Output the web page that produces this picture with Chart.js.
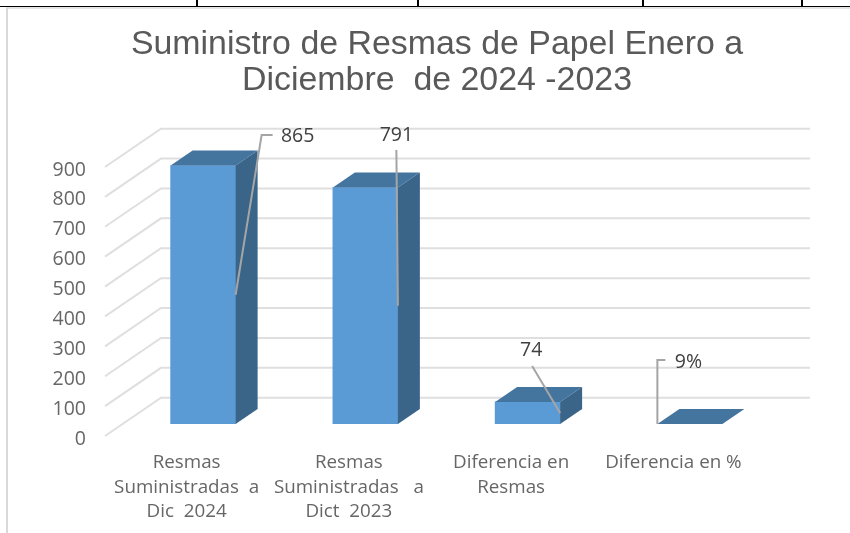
<!DOCTYPE html>
<html lang="es">
<head>
<meta charset="utf-8">
<title>Suministro de Resmas de Papel</title>
<script src="https://cdn.jsdelivr.net/npm/chart.js@4"></script>
<style>
    html, body { margin: 0; padding: 0; width: 850px; height: 533px; overflow: hidden; background: #fff; }
    /* recuadro del grafico y restos de la tabla de arriba */
    #frame { position: absolute; left: 6px; top: 7px; width: 860px; height: 526px; border-left: 2px solid #d9d9d9; border-top: 2px solid #e4e4e4; }
    #frame canvas { display: block; }
    .rule { position: absolute; background: #000; }
</style>
</head>
<body>
<div class="rule" style="left:0;top:6px;width:850px;height:1px"></div>
<div class="rule" style="left:196px;top:0;width:2px;height:7px"></div>
<div class="rule" style="left:417px;top:0;width:2px;height:7px"></div>
<div class="rule" style="left:642px;top:0;width:2px;height:7px"></div>
<div class="rule" style="left:801px;top:0;width:2px;height:7px"></div>
<div id="frame"><canvas id="suministro" width="858" height="524"></canvas></div>
<script>
const categories = [
    ["Resmas", "Suministradas  a", "Dic  2024"],
    ["Resmas", "Suministradas   a", "Dict  2023"],
    ["Diferencia en", "Resmas"],
    ["Diferencia en %"]
];
const values = [865, 791, 74, 0.09];
const valueLabels = ["865", "791", "74", "9%"];
const yTicks = [0, 100, 200, 300, 400, 500, 600, 700, 800, 900];
const titleLines = ["Suministro de Resmas de Papel Enero a", "Diciembre  de 2024 -2023"];

const textFont = "'Open Sans', sans-serif";

// Profundidad de la caja 3D
const barDepth = { x: 22, y: -15 };
const wallBack = { x: 39, y: -26.3 };
const wallFront = { x: -17, y: 12 };

// Lineas guia de cada etiqueta: x desde el borde de la barra, y desde la base
const leaders = [
    { side: "right", path: [[26, -289], [37, -289]], text: [62, -288] },
    { side: "right", path: [[-1.5, -274]], text: [-1.5, -289] },
    { side: "right", path: [[-28, -58]], text: [-29, -74] },
    { side: "left", path: [[0, -64], [8, -64]], text: [31, -62] }
];

function anchorX(bar, lead) {
    return lead.side === "right" ? bar.x + bar.width / 2 : bar.x - bar.width / 2;
}

const walls = {
    id: "walls",
    beforeDatasetsDraw(chart) {
        const { ctx, chartArea, scales } = chart;
        ctx.save();
        ctx.strokeStyle = "#dfdfdf";
        ctx.lineWidth = 2;
        yTicks.forEach(t => {
            const y = scales.y.getPixelForValue(t);
            ctx.beginPath();
            ctx.moveTo(chartArea.left + wallFront.x, y + wallFront.y);
            ctx.lineTo(chartArea.left + wallBack.x, y + wallBack.y);
            ctx.lineTo(chartArea.right + wallBack.x, y + wallBack.y);
            ctx.stroke();
        });
        ctx.restore();
    }
};

const boxes = {
    id: "boxes",
    afterDatasetsDraw(chart) {
        const { ctx } = chart;
        const bars = chart.getDatasetMeta(0).data;
        ctx.save();
        bars.forEach(bar => {
            const l = bar.x - bar.width / 2, r = bar.x + bar.width / 2;
            const top = bar.y, base = bar.base;
            // cara superior
            ctx.fillStyle = "#44759f";
            ctx.beginPath();
            ctx.moveTo(l, top);
            ctx.lineTo(l + barDepth.x, top + barDepth.y);
            ctx.lineTo(r + barDepth.x, top + barDepth.y);
            ctx.lineTo(r, top);
            ctx.closePath();
            ctx.fill();
            // cara lateral
            ctx.fillStyle = "#3a6589";
            ctx.beginPath();
            ctx.moveTo(r, top);
            ctx.lineTo(r + barDepth.x, top + barDepth.y);
            ctx.lineTo(r + barDepth.x, base + barDepth.y);
            ctx.lineTo(r, base);
            ctx.closePath();
            ctx.fill();
        });
        // etiquetas con linea guia
        ctx.font = "19.5px " + textFont;
        ctx.textBaseline = "middle";
        ctx.textAlign = "center";
        bars.forEach((bar, i) => {
            const lead = leaders[i];
            const ax = anchorX(bar, lead);
            ctx.strokeStyle = "#a5a5a5";
            ctx.lineWidth = 2;
            ctx.beginPath();
            ctx.moveTo(ax, (bar.y + bar.base) / 2);
            lead.path.forEach(p => ctx.lineTo(ax + p[0], bar.base + p[1]));
            ctx.stroke();
            ctx.fillStyle = "#404040";
            ctx.fillText(valueLabels[i], ax + lead.text[0], bar.base + lead.text[1]);
        });
        ctx.restore();
    }
};

const ctx = document.getElementById("suministro").getContext("2d");
new Chart(ctx, {
    type: "bar",
    data: {
        labels: categories,
        datasets: [{
            data: values,
            backgroundColor: "#5b9bd5",
            borderWidth: 0,
            barThickness: 65
        }]
    },
    options: {
        responsive: false,
        animation: false,
        layout: { padding: { top: 18, right: 0, bottom: 0, left: 0 } },
        scales: {
            x: {
                grid: { display: false },
                border: { display: false },
                afterFit: s => { s.height = 109; },
                ticks: {
                    color: "#666666",
                    font: { family: textFont, size: 18.8, lineHeight: 1.29 },
                    padding: 19,
                    labelOffset: -16.5,
                    maxRotation: 0,
                    minRotation: 0,
                    autoSkip: false
                }
            },
            y: {
                min: 0,
                max: 900,
                afterFit: s => { s.width = 114; },
                afterBuildTicks: s => { s.ticks = yTicks.map(v => ({ value: v })); },
                grid: { display: false },
                border: { display: false },
                ticks: {
                    color: "#666666",
                    font: { family: textFont, size: 19.5 },
                    padding: 28,
                    labelOffset: 15
                }
            },
            // eje vacio a la derecha: reserva el margen sin descentrar el titulo
            margen: {
                axis: "y",
                position: "right",
                afterFit: s => { s.width = 95; },
                grid: { display: false },
                border: { display: false },
                ticks: { display: false }
            }
        },
        plugins: {
            legend: { display: false },
            tooltip: { enabled: false },
            title: {
                display: true,
                text: titleLines,
                color: "#595959",
                font: { family: "'Liberation Sans', Arial, sans-serif", size: 33.9, weight: "normal", lineHeight: 1.062 },
                padding: { top: 0, bottom: 56 }
            }
        }
    },
    plugins: [walls, boxes]
});
</script>
</body>
</html>
